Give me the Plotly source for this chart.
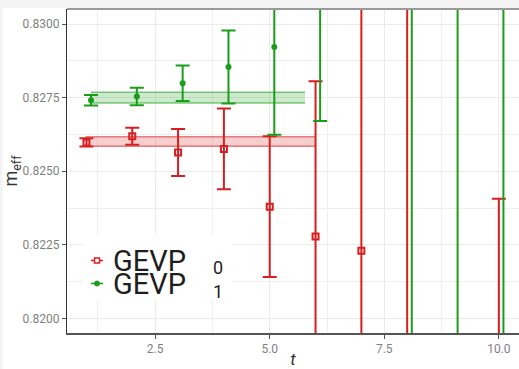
import plotly.graph_objects as go

# effective mass per time slice, GEVP state 0
t_0 = [1, 2, 3, 4, 5, 6, 7, 8, 10]
m_0 = [0.82598, 0.82619, 0.82564, 0.82576, 0.82380, 0.82279, 0.82230, 0.81700, 0.81700]
dm_0 = [0.00014, 0.00029, 0.00080, 0.00137, 0.00239, 0.00527, 0.00950, 0.01600, 0.00707]

# effective mass per time slice, GEVP state 1 (offset by 0.1 in t)
t_1 = [1.1, 2.1, 3.1, 4.1, 5.1, 6.1, 8.1, 9.1, 10.1]
m_1 = [0.82741, 0.82754, 0.82799, 0.82854, 0.82922, 0.83200, 0.83500, 0.83300, 0.81800]
dm_1 = [0.00018, 0.00030, 0.00060, 0.00124, 0.00298, 0.00529, 0.01700, 0.01600, 0.01800]

# plateau fits: t-range and (lower, upper) band
fit_t_0 = [0.98, 6.0]
fit_band_0 = [0.82585, 0.82617]
fit_t_1 = [1.1, 5.77]
fit_band_1 = [0.82732, 0.82768]

labels = ["GEVP", "GEVP"]
subs = ["0", "1"]

RED = "#d81e1e"
GREEN = "#1a9e1a"
RED_A = "rgba(216,30,30,{})"
GREEN_A = "rgba(26,158,26,{})"

fig = go.Figure()

for ft, fb, ca in [(fit_t_0, fit_band_0, RED_A), (fit_t_1, fit_band_1, GREEN_A)]:
    fig.add_trace(go.Scatter(x=ft, y=[fb[0], fb[0]], mode="lines",
                             line=dict(color=ca.format(0.55), width=1.5),
                             showlegend=False, hoverinfo="skip"))
    fig.add_trace(go.Scatter(x=ft, y=[fb[1], fb[1]], mode="lines",
                             line=dict(color=ca.format(0.55), width=1.5),
                             fill="tonexty", fillcolor=ca.format(0.22),
                             showlegend=False, hoverinfo="skip"))

fig.add_trace(go.Scatter(
    x=t_0, y=m_0, mode="markers", name=labels[0] + subs[0], showlegend=False,
    marker=dict(symbol="square-open", size=6, color=RED, line=dict(width=2, color=RED)),
    error_y=dict(type="data", array=dm_0, visible=True, color=RED, thickness=2, width=7),
))
fig.add_trace(go.Scatter(
    x=t_1, y=m_1, mode="markers", name=labels[1] + subs[1], showlegend=False,
    marker=dict(symbol="circle", size=6, color=GREEN),
    error_y=dict(type="data", array=dm_1, visible=True, color=GREEN, thickness=2, width=7),
))

# pixel -> paper helpers for the plot area (left 67, top 9, 452 x 324)
L, T, W, H = 67.0, 9.0, 452.0, 324.0
def px(x):
    return (x - L) / W
def py(y):
    return (T + H - y) / H

shapes = [
    # top border of the panel
    dict(type="line", xref="paper", yref="paper", x0=0, x1=1, y0=1, y1=1,
         line=dict(color="#9a9a9a", width=2)),
    # light page background strips
    dict(type="rect", xref="paper", yref="paper", x0=px(0), x1=1.0,
         y0=py(8), y1=py(0), fillcolor="#f3f3f3", line=dict(width=0), layer="below"),
    dict(type="rect", xref="paper", yref="paper", x0=px(0), x1=px(2.5),
         y0=py(369), y1=py(0), fillcolor="#f3f3f3", line=dict(width=0), layer="below"),
    # legend box
    dict(type="rect", xref="paper", yref="paper", x0=px(83), x1=px(232),
         y0=py(300), y1=py(235), fillcolor="white", line=dict(width=0), layer="above"),
]

annotations = []
legend_rows = [(260.5, RED, "square"), (283.5, GREEN, "circle")]
for (yc, col, sym), lab, sub, ysub in zip(legend_rows, labels, subs, [267.5, 291.5]):
    shapes.append(dict(type="line", xref="paper", yref="paper", x0=px(91), x1=px(103),
                       y0=py(yc), y1=py(yc), line=dict(color=col, width=1.5), layer="above"))
    if sym == "square":
        shapes.append(dict(type="rect", xref="paper", yref="paper", x0=px(94.5), x1=px(99.5),
                           y0=py(yc + 2.5), y1=py(yc - 2.5), fillcolor="white",
                           line=dict(color=col, width=1.5), layer="above"))
    else:
        shapes.append(dict(type="circle", xref="paper", yref="paper", x0=px(94.5), x1=px(99.5),
                           y0=py(yc + 2.5), y1=py(yc - 2.5), fillcolor=col,
                           line=dict(color=col, width=1), layer="above"))
    annotations.append(dict(text=lab, xref="paper", yref="paper", x=px(111), y=py(yc),
                            xanchor="left", yanchor="middle", showarrow=False,
                            font=dict(family="Roboto", size=29, color="#1e1e1e")))
    annotations.append(dict(text=sub, xref="paper", yref="paper", x=px(218), y=py(ysub),
                            xanchor="center", yanchor="middle", showarrow=False,
                            font=dict(family="Roboto", size=18, color="#1e1e1e")))

fig.update_layout(
    width=519, height=369,
    margin=dict(l=67, r=0, t=9, b=36),
    paper_bgcolor="white", plot_bgcolor="white",
    font=dict(family="Roboto", color="#333333"),
    shapes=shapes, annotations=annotations,
    showlegend=False,
    xaxis=dict(range=[0.576, 10.44], tickvals=[2.5, 5.0, 7.5, 10.0], ticktext=["2.5", "5.0", "7.5", "10.0"],
               showgrid=True, gridcolor="#ebebeb", gridwidth=1,
               minor=dict(tickvals=[1.25, 3.75, 6.25, 8.75], showgrid=True, gridcolor="#efefef", gridwidth=1),
               ticks="outside", ticklen=4, tickcolor="#555555",
               tickfont=dict(size=12, color="#7f7f7f"),
               showline=True, linecolor="#555555", linewidth=1.5, zeroline=False,
               title=dict(text="<i>t</i>", font=dict(size=17, color="#333333"), standoff=2)),
    yaxis=dict(range=[0.81951, 0.83051], tickvals=[0.8200, 0.8225, 0.8250, 0.8275, 0.8300],
               ticktext=["0.8200", "0.8225", "0.8250", "0.8275", "0.8300"],
               showgrid=True, gridcolor="#ebebeb", gridwidth=1,
               minor=dict(tickvals=[0.82125, 0.82375, 0.82625, 0.82875], showgrid=True,
                          gridcolor="#efefef", gridwidth=1),
               ticks="outside", ticklen=4, tickcolor="#555555",
               tickfont=dict(size=12, color="#7f7f7f"),
               showline=True, linecolor="#333333", linewidth=1.2, zeroline=False,
               title=dict(text="m<sub>eff</sub>", font=dict(size=18, color="#333333"), standoff=6)),
)

fig.write_html("out.html")
